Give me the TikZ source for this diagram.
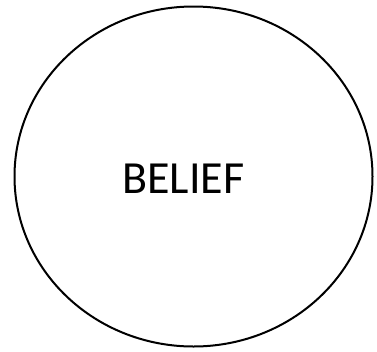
\documentclass[tikz,border=0pt]{standalone}
\usepackage{fontspec}
\setmainfont{Carlito}
\usepackage{tikz}
\usetikzlibrary{shapes.geometric}
\tikzset{
  beliefring/.style={draw=black,ellipse,line width=2pt,inner sep=0pt,
    minimum width=358pt,minimum height=340pt},
  conceptlabel/.style={font=\fontsize{46}{50}\selectfont,inner sep=0pt}
}
\begin{document}
\begin{tikzpicture}[x=1pt,y=-1pt]
  \useasboundingbox (0,0) rectangle (377,351);
  \node[beliefring] (ring) at (193.5,176.5) {};
  \node[conceptlabel] (belief) at (183.5,179) {BELIEF};
\end{tikzpicture}
\end{document}
